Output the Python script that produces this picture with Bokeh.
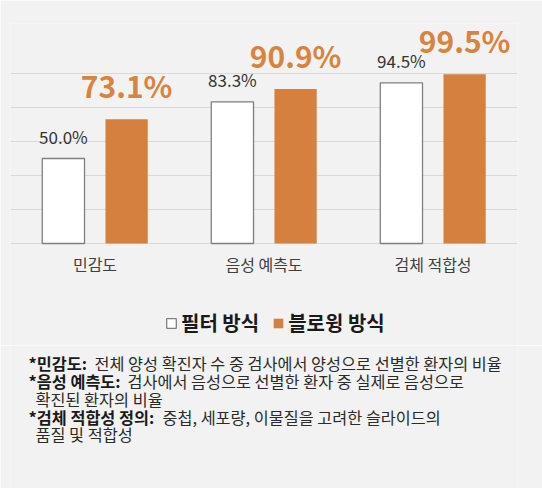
from bokeh.plotting import figure
from bokeh.models import (ColumnDataSource, FactorRange, Range1d, FixedTicker,
                          Legend, LegendItem, Label)
from bokeh.transform import dodge
from bokeh.layouts import column
from bokeh.embed import file_html
from bokeh.resources import INLINE
from bokeh.core.properties import value

# ---- data ----
categories = ["민감도", "음성 예측도", "검체 적합성"]
filter_values = [50.0, 83.3, 94.5]
blowing_values = [73.1, 90.9, 99.5]
series_names = ["필터 방식", "블로윙 방식"]
grid_ticks = [0, 20, 40, 60, 80, 100]
note_terms = ["*민감도:", "*음성 예측도:", "", "*검체 적합성 정의:", ""]
note_texts = ["전체 양성 확진자 수 중 검사에서 양성으로 선별한 환자의 비율",
              "검사에서 음성으로 선별한 환자 중 실제로 음성으로",
              "확진된 환자의 비율",
              "중첩, 세포량, 이물질을 고려한 슬라이드의",
              "품질 및 적합성"]

# ---- styles ----
FONT = "Noto Sans CJK KR"
BG = "#f2f2f2"
ORANGE = "#d5803f"
GRID = "#d9d9d9"
W = 542
H1 = 345
H2 = 488 - H1

src = ColumnDataSource(dict(
    cat=categories,
    f=filter_values,
    b=blowing_values,
    f_lab=[f"{v:.1f}%" for v in filter_values],
    b_lab=[f"{v:.1f}%" for v in blowing_values],
))

p = figure(width=W, height=H1, x_range=FactorRange(factors=categories),
           y_range=Range1d(-60, 129.4), toolbar_location=None,
           output_backend="svg", x_axis_location=None, y_axis_location=None,
           min_border_left=10, min_border_right=25, min_border_top=23,
           min_border_bottom=0,
           background_fill_color=BG, border_fill_color=BG,
           outline_line_color=None)

OFF = 0.187
BW = 0.25
r1 = p.vbar(x=dodge("cat", -OFF, range=p.x_range), top="f", width=BW,
            source=src, fill_color="white", line_color="#7f7f7f",
            line_width=1.3)
r2 = p.vbar(x=dodge("cat", OFF, range=p.x_range), top="b", width=BW,
            source=src, fill_color=ORANGE, line_color=None)

p.text(x=dodge("cat", -OFF, range=p.x_range), y="f", text="f_lab",
       source=src, y_offset=-22, text_align="center",
       text_baseline="middle", text_font=value(FONT),
       text_font_size="17px", text_color="#333333")
p.text(x=dodge("cat", OFF, range=p.x_range), y="b", text="b_lab",
       source=src, y_offset=-34, text_align="center",
       text_baseline="middle", text_font=value(FONT),
       text_font_size="30px", text_font_style="bold", text_color="#d8843f")

# category labels under the baseline
p.text(x="cat", y=0, text="cat", source=src, y_offset=21,
       text_align="center", text_baseline="middle", text_font=value(FONT),
       text_font_size="16px", text_color="#404040")

p.xgrid.grid_line_color = None
p.ygrid.ticker = FixedTicker(ticks=grid_ticks)
p.ygrid.grid_line_color = GRID
p.ygrid.grid_line_width = 1

legend = Legend(items=[LegendItem(label=series_names[0], renderers=[r1]),
                       LegendItem(label=series_names[1], renderers=[r2])],
                orientation="horizontal", location=(155, 8), margin=0,
                padding=2, spacing=13, glyph_width=12, glyph_height=12,
                label_standoff=4, label_text_font=FONT,
                label_text_font_size="20px", label_text_font_style="bold",
                label_text_color="#1a1a1a", border_line_color=None,
                background_fill_alpha=0)
p.add_layout(legend)

# ---- notes ----
n = figure(width=W, height=H2, x_range=Range1d(0, W), y_range=Range1d(0, H2),
           toolbar_location=None, output_backend="svg",
           x_axis_location=None, y_axis_location=None, min_border=0,
           background_fill_color=BG, border_fill_color=BG,
           outline_line_color=None)
n.xgrid.visible = False
n.ygrid.visible = False

NOTE_SIZE = "16.3px"
line_y = [125.5, 107.5, 90, 72, 54.5]
text_x = [84, 117, 25, 152, 25]
for term, txt, y, tx in zip(note_terms, note_texts, line_y, text_x):
    if term:
        n.add_layout(Label(x=18, y=y, x_units="screen", y_units="screen",
                           text=term, text_font=FONT,
                           text_font_size=NOTE_SIZE,
                           text_font_style="bold", text_color="#1a1a1a",
                           text_baseline="middle"))
    n.add_layout(Label(x=tx, y=y, x_units="screen", y_units="screen",
                       text=txt, text_font=FONT, text_font_size=NOTE_SIZE,
                       text_color="#2b2b2b", text_baseline="middle"))

layout = column(p, n, spacing=0)
open("out.html", "w").write(file_html(layout, INLINE))
